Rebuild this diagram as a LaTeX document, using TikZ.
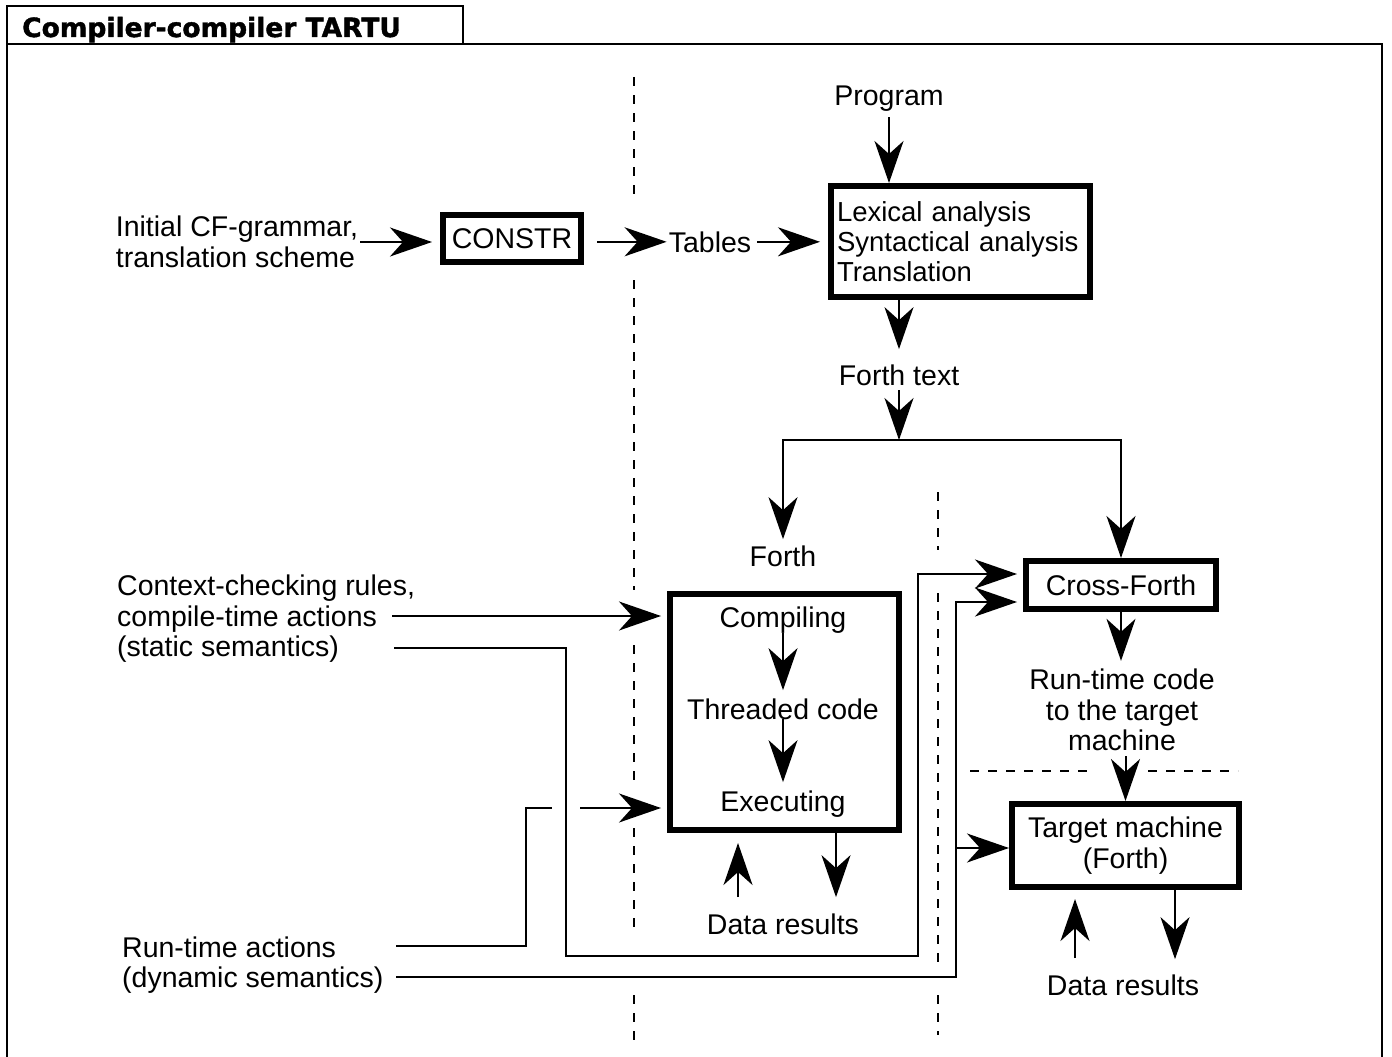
\documentclass[tikz,border=0pt]{standalone}
\usepackage{fontspec}                 % polices système
\setmainfont{Liberation Sans}
\newfontfamily\titrefont[BoldFeatures={FakeBold=1.5}]{DejaVu Sans}
\usepackage{tikz}
\usetikzlibrary{arrows.meta,          % pointes de flèches
           positioning}               % placement relatif des noeuds
\tikzset{
  texte/.style={font=\fontsize{28.5}{30.5}\selectfont,inner sep=0pt},
  trait/.style={line width=2pt},
  fleche/.style={line width=2pt,-{Stealth[length=42pt,width=29pt,inset=13pt]}},
  boite/.style={draw,line width=6pt,inner sep=0pt},
  pointille/.style={line width=2pt,dash pattern=on 9pt off 9pt}
}

\begin{document}
\begin{tikzpicture}[x=1pt,y=-1pt,every node/.style={texte}]
\useasboundingbox (0,0) rectangle (1392,1057);
\draw[line width=2.5pt] (7,1057)--(7,6)-|(463,44);
\draw[line width=2.5pt] (7,44)-|(1382,1057);
\node[anchor=base west,font=\titrefont\bfseries\fontsize{26.5}{29}\selectfont] (titre) at (22,37) {Compiler-compiler TARTU};
% separations
\foreach \ya/\yb in {77/202,280/590,645/780,828/935,995/1040}
  \draw[pointille] (634,\ya)--(634,\yb);
\foreach \ya/\yb in {492/550,593/968,995/1035}
  \draw[pointille] (938,\ya)--(938,\yb);
\draw[pointille] (970,771)--(1093,771) (1148,771)--(1238,771);
% noeuds
\node[anchor=base] (prog) at (889,105) {Program};
\node[boite,align=left,text width=247pt,inner xsep=6pt,minimum height=111pt,font=\fontsize{27.5}{30}\selectfont] (lex) at (960.5,241.5) {Lexical analysis\\Syntactical analysis\\Translation};
\node[align=left] (grammaire) at (237,242) {Initial CF-grammar,\\translation scheme};
\node[boite,minimum width=138pt,minimum height=47pt] (constr) at (512,238.5) {CONSTR};
\node[anchor=base] (tables) at (710,252) {Tables};
\node[anchor=base] (ftexte) at (899,385) {Forth text};
\coordinate (split) at (899,440);
\node[anchor=base] (forthlbl) at (783,566) {Forth};
\node[boite,minimum width=229pt,minimum height=236pt] (forthbox) at (784.5,712) {};
\node[anchor=base] (comp) at (783,627) {Compiling};
\node[anchor=base] (thr) at (783,719) {Threaded code};
\node[anchor=base] (exe) at (783,811) {Executing};
\node[anchor=base] (data1) at (783,934) {Data results};
\node[boite,minimum width=190pt,minimum height=48pt] (cross) at (1121,585) {Cross-Forth};
\node[align=center] (runcode) at (1122,710) {Run-time code\\to the target\\machine};
\node[boite,align=center,minimum width=227pt,minimum height=83pt] (target) at (1125.5,845.5) {Target machine\\(Forth)};
\node[anchor=base] (data2) at (1123,995) {Data results};
\node[anchor=west,align=left] (ctx) at (117,619) {Context-checking rules,\\compile-time actions\\(static semantics)};
\node[anchor=west,align=left] (rt) at (122,965) {Run-time actions\\(dynamic semantics)};
\coordinate (c1) at (392,616);
\coordinate (c2) at (394,648);
\coordinate (s1) at (566,956);
\coordinate (s2) at (918,574);
\coordinate (c3) at (396,946);
\coordinate (r1) at (526,808);
\coordinate (c4) at (396,977);
\coordinate (d1) at (956,602);
% fleches
\draw[fleche,shorten <=2pt,shorten >=8pt] (grammaire.east) -- (constr.west |- grammaire.east);
\draw[fleche,shorten <=13pt,shorten >=2pt] (constr.east |- tables.west) -- (tables.west);
\draw[fleche,shorten <=6pt,shorten >=8pt] (tables.east) -- (lex.west |- tables.east);
\draw[fleche,shorten <=6pt] (prog.south) -- (prog |- lex.north);
\draw[fleche,shorten >=15pt] (ftexte |- lex.south) -- (ftexte.north);
\draw[fleche,shorten <=5pt] (ftexte.south) -- (split);
\draw[fleche,shorten >=6pt] (split) -| (forthlbl.north);
\draw[fleche] (split) -| (cross.north);
\draw[fleche,shorten >=8pt] (comp.south) -- (thr.north);
\draw[fleche,shorten >=8pt] (thr.south) -- (exe.north);
\draw[fleche,shorten <=16pt,shorten >=10pt] ([xshift=-45pt]data1.north) -- ([xshift=-46.5pt]forthbox.south);
\draw[fleche,shorten >=16pt] ([xshift=51.5pt]forthbox.south) -- ([xshift=53pt]data1.north);
\draw[fleche,shorten >=6pt] (c1) -- (forthbox.west |- c1);
\draw[fleche,shorten >=6pt] (c2) -| (s1) -| (s2) -- (s2 -| cross.west);
\draw[trait] (c3) -| (r1) -- ++(26,0);
\draw[fleche,shorten >=6pt] (r1) ++(54,0) -- (forthbox.west |- r1);
\draw[fleche,shorten >=6pt] (c4) -| (d1) -- (d1 -| cross.west);
\draw[fleche] (d1 |- 0,848) -- (target.west |- 0,848);
\draw[fleche,shorten >=8pt] (cross.south) -- (cross.south |- runcode.north);
\draw[fleche,shorten <=5pt] (target.north |- runcode.south) -- (target.north);
\draw[fleche,shorten <=16pt,shorten >=9pt] ([xshift=-48pt]data2.north) -- ([xshift=-50.5pt]target.south);
\draw[fleche,shorten >=15pt] ([xshift=49.5pt]target.south) -- ([xshift=52pt]data2.north);
\end{tikzpicture}
\end{document}
